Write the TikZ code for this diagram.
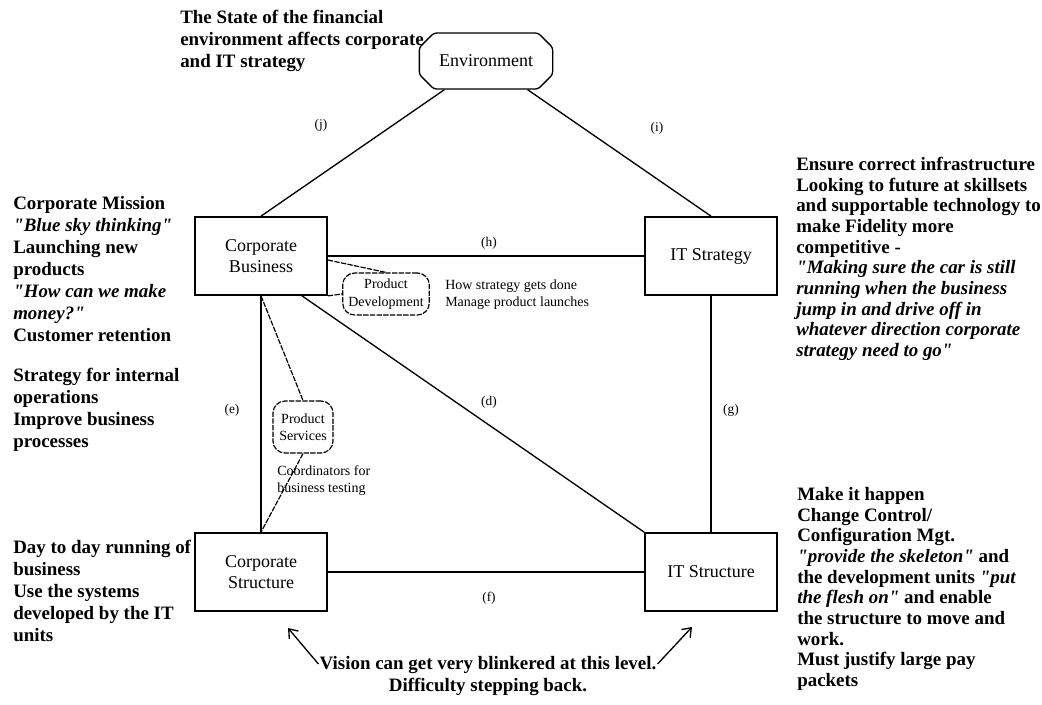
\documentclass[tikz,border=0pt]{standalone}
\usepackage{fontspec}
\setmainfont{Liberation Serif}[Ligatures=TeXOff]
\usetikzlibrary{arrows.meta,positioning,calc,shapes.misc}
\tikzset{
  unit/.style={draw, line width=1.3pt, minimum width=99pt, minimum height=58.5pt, align=center, inner sep=2pt, font=\fontsize{13.5}{15.5}\selectfont},
  envbox/.style={draw, line width=1pt, chamfered rectangle, chamfered rectangle xsep=9pt, minimum width=100pt, minimum height=42pt, rounded corners=2pt, font=\fontsize{13.5}{15.5}\selectfont},
  blob/.style={draw, line width=0.9pt, dash pattern=on 4pt off 1pt, rounded corners=9pt, align=center, inner sep=1pt, font=\fontsize{10.5}{13}\selectfont},
  wire/.style={line width=1pt},
  dwire/.style={line width=0.9pt, dash pattern=on 4pt off 1pt},
  tag/.style={font=\fontsize{10}{12}\selectfont, inner sep=0pt},
  aside/.style={anchor=north west, align=left, inner sep=0pt, font=\fontsize{10.5}{12.75}\selectfont},
  note/.style={anchor=north west, align=left, inner sep=0pt, font=\fontsize{14.2}{16.5}\selectfont\bfseries},
  notetight/.style={note, font=\fontsize{14.2}{15.5}\selectfont\bfseries},
  look/.style={-{Straight Barb[length=6pt,width=9pt]}, line width=1pt}
}
\begin{document}
\begin{tikzpicture}[x=0.75pt,y=-0.75pt]
  \useasboundingbox (0,0) rectangle (1042,704);
  % the four units and the environment
  \node[unit] (cb) at (261,256) {Corporate\\Business};
  \node[unit] (its) at (711,256) {IT Strategy};
  \node[unit] (cs) at (261,572) {Corporate\\Structure};
  \node[unit] (itu) at (711,572) {IT Structure};
  \node[envbox] (env) at (486,61) {Environment};
  % product groups
  \node[blob, minimum width=65pt, minimum height=31.5pt] (pd) at (386,294) {Product\\Development};
  \node[blob, minimum width=45pt, minimum height=39pt] (ps) at (303,427) {Product\\Services};
  % links
  \draw[wire] (cb.north) -- (env);
  \draw[wire] (its.north) -- (env);
  \draw[wire] (cb) -- (its);
  \draw[wire] (cs) -- (itu);
  \draw[wire] (cb.south) -- (cs.north);
  \draw[wire] (its.south) -- (itu.north);
  \draw[wire] ($(cb.south)+(41,0)$) -- (itu.north west);
  % dashed ties
  \draw[dwire] ($(cb.east)+(0,4)$) -- (pd.north);
  \draw[dwire] (cb.south east) -- (pd.west);
  \draw[dwire] (cb.south) -- (ps.north);
  \draw[dwire] (ps.south) -- (cs.north);
  % link letters
  \foreach \n/\px/\py in {j/321/125, i/657/128, h/489/243, e/232/410, d/489/402, g/731/410, f/489/598}
    \node[tag] (l\n) at (\px,\py) {(\n)};
  % notes
  \node[note] (envnote) at (180,10) {The State of the financial\\environment affects corporate\\and IT strategy};
  \node[note] (cbnote) at (13,196) {Corporate Mission\\\textit{"Blue sky thinking"}\\Launching new\\products\\\textit{"How can we make}\\\textit{money?"}\\Customer retention\\[13.5pt]Strategy for internal\\operations\\Improve business\\processes};
  \node[note] (csnote) at (13,540) {Day to day running of\\business\\Use the systems\\developed by the IT\\units};
  \node[notetight] (itsnote) at (796,157) {Ensure correct infrastructure\\Looking to future at skillsets\\and supportable technology to\\make Fidelity more\\competitive -\\\textit{"Making sure the car is still}\\\textit{running when the business}\\\textit{jump in and drive off in}\\\textit{whatever direction corporate}\\\textit{strategy need to go"}};
  \node[notetight] (itunote) at (797,487) {Make it happen\\Change Control/\\Configuration Mgt.\\\textit{"provide the skeleton"} and\\the development units \textit{"put}\\\textit{the flesh on"} and enable\\the structure to move and\\work.\\Must justify large pay\\packets};
  \node[aside] (pdnote) at (445,280) {How strategy gets done\\Manage product launches};
  \node[aside] (psnote) at (277,465) {Coordinators for\\business testing};
  % bottom remark
  \node[note, anchor=north, align=center] (vision) at (488,656) {Vision can get very blinkered at this level.\\Difficulty stepping back.};
  \coordinate (lt) at (288,628);
  \coordinate (rt) at (692,627);
  \draw[look] ($(vision.north west)+(-1,8)$) -- (lt);
  \draw[look] ($(vision.north east)+(1,8)$) -- (rt);
\end{tikzpicture}
\end{document}
